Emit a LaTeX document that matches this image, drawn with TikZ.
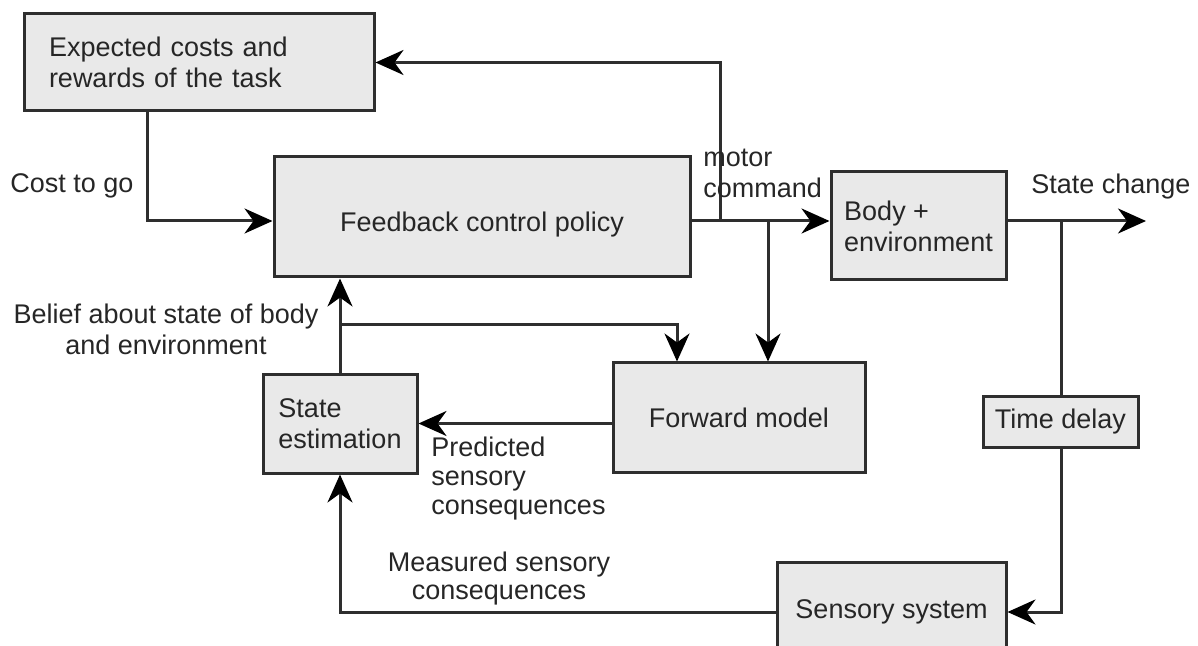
\documentclass[tikz,border=0pt]{standalone}
\usepackage{fontspec}
\setmainfont{Liberation Sans}
\usetikzlibrary{arrows.meta,calc}
\definecolor{boxfill}{HTML}{E9E9E9}
\definecolor{linecol}{HTML}{2E2E2E}
\definecolor{txtcol}{HTML}{262626}
\begin{document}
\begin{tikzpicture}[x=0.5pt,y=-0.5pt,
  font=\fontsize{13.5pt}{15.5pt}\selectfont,
  box/.style={draw=linecol, fill=boxfill, line width=1.5pt, text=txtcol, inner sep=0pt, align=left},
  lbl/.style={text=txtcol, inner sep=0pt},
  arr/.style={draw=linecol, line width=1.5pt, -{Stealth[length=14pt,width=12.5pt,inset=4.5pt,color=black]}},
  ln/.style={draw=linecol, line width=1.5pt}]
\useasboundingbox (0,0) rectangle (1198,646);

% boxes
\node[box, minimum width=175pt, minimum height=48.5pt, inner xsep=12.5pt, text width=150pt] (exp) at (199,62.5) {Expected costs and\\rewards of the task};
\node[box, minimum width=208pt, minimum height=60pt, align=center, text height=17.5pt] (fb) at (482,217) {Feedback control policy};
\node[box, minimum width=87.5pt, minimum height=54pt] (body) at (918.5,226) {Body +\\environment};
\node[box, minimum width=77pt, minimum height=49.5pt] (state) at (340,423.5) {State\\estimation};
\node[box, minimum width=126pt, minimum height=54.5pt, align=center] (fwd) at (739,417.5) {Forward model};
\node[box, minimum width=77.5pt, minimum height=25.5pt, align=center] (delay) at (1060.5,421.5) {Time delay};
\node[box, minimum width=114.5pt, minimum height=50pt, align=center] (sens) at (891.5,612) {Sensory system};

% coordinates
\coordinate (m) at ([yshift=-2pt]fb.east);
\coordinate (j1) at (720,221);
\coordinate (j2) at (768,221);
\coordinate (j3) at (1061,221);
\coordinate (j4) at (340,325);
\coordinate (sc) at (1146,221);

% connectors
\draw[arr] ([xshift=-26pt]exp.south) |- (m -| fb.west);
\draw[arr] (m) -- (m -| body.west);
\draw[arr] (j1) |- (exp.east);
\draw[arr] (j2) -- (j2 |- fwd.north);
\draw[arr] (body.east |- m) -- (sc);
\draw[ln] (j3) -- (j3 |- delay.north);
\draw[arr] (j3 |- delay.south) |- (sens.east);
\draw[arr] (sens.west) -| (state.south);
\draw[arr] (state.north) -- (state.north |- fb.south);
\draw[arr] (j4) -| ([xshift=-31pt]fwd.north);
\draw[arr] (fwd.west |- state.east) -- (state.east);

% labels
\node[lbl, anchor=west] (cost) at (10,186) {Cost to go};
\node[lbl, anchor=west, align=left] (motor) at (703,173) {motor\\command};
\node[lbl, anchor=west] (schange) at (1031,187) {State change};
\node[lbl, align=center] (belief) at (166,329) {Belief about state of body\\and environment};
\node[lbl, anchor=west, align=left, font=\fontsize{13.5pt}{14.5pt}\selectfont] (pred) at (431,479) {Predicted\\sensory\\consequences};
\node[lbl, align=center, font=\fontsize{13.5pt}{14pt}\selectfont] (meas) at (499,579) {Measured sensory\\consequences};
\end{tikzpicture}
\end{document}
